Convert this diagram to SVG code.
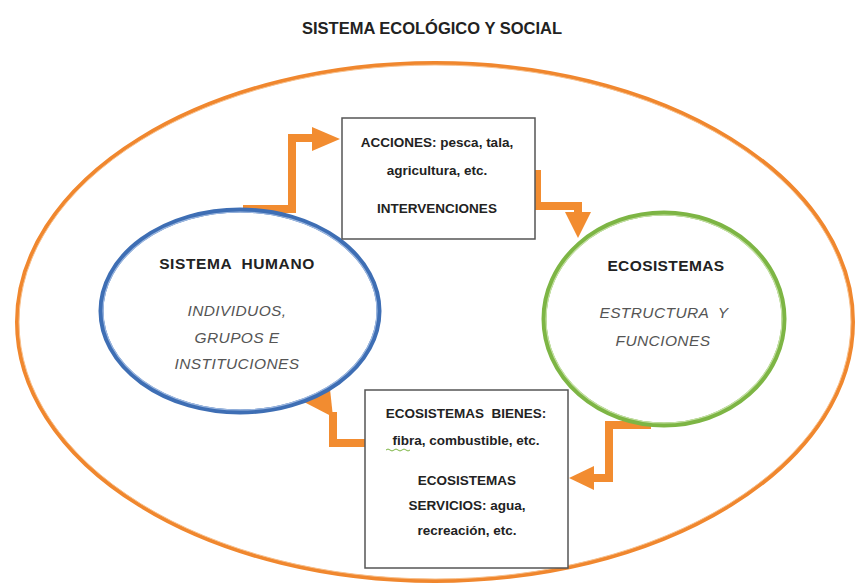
<svg xmlns="http://www.w3.org/2000/svg" width="860" height="585" viewBox="0 0 860 585">
<style>
.t{font-family:"Liberation Sans","Open Sans",sans-serif;fill:#222;text-anchor:middle}
.b{font-weight:bold;font-size:13.5px}
.i{font-style:italic;font-size:15.5px;fill:#555;letter-spacing:0.4px}
.conn{fill:none;stroke:#F28C30;stroke-width:8;stroke-linejoin:miter}
.head{fill:#F28C30}
.box{fill:#fff;stroke:#555;stroke-width:1.5}
</style>
<rect width="860" height="585" fill="#fff"/>
<text class="t" x="432" y="34" font-weight="bold" font-size="16.5">SISTEMA ECOLÓGICO Y SOCIAL</text>
<g id="outer">
<ellipse cx="435" cy="322" rx="418" ry="259" fill="none" stroke="#F0872E" stroke-width="4"/>
<ellipse cx="435" cy="322" rx="416" ry="257" fill="none" stroke="#F8C08C" stroke-width="1"/>
</g>
<g id="connectors">
<path class="conn" d="M243 209 H292 V138 H314"/>
<polygon class="head" points="312,127 340,139 312,151"/>
<path class="conn" d="M537 170 V206 H578 V214"/>
<polygon class="head" points="565,212 591,212 578,238"/>
<path class="conn" d="M651 425 H609 V478 H592"/>
<polygon class="head" points="594,466 569,478 594,490"/>
<path class="conn" d="M365 443 H333 V412"/>
<polygon class="head" points="304,402 330,389 333,417"/>
</g>
<g id="sistema-humano">
<ellipse cx="240" cy="311" rx="139" ry="101" fill="#fff" stroke="#3E6EB4" stroke-width="5"/>
<ellipse cx="240" cy="311" rx="137" ry="99" fill="none" stroke="#9DB8E0" stroke-width="1.2"/>
<text class="t" x="237" y="269" font-weight="bold" font-size="15.5" letter-spacing="0.6" xml:space="preserve">SISTEMA  HUMANO</text>
<text class="t i" x="237" y="316">INDIVIDUOS,</text>
<text class="t i" x="237" y="343">GRUPOS E</text>
<text class="t i" x="237" y="369">INSTITUCIONES</text>
</g>
<g id="ecosistemas">
<ellipse cx="664" cy="319" rx="120" ry="106" fill="#fff" stroke="#7DB544" stroke-width="5"/>
<ellipse cx="664" cy="319" rx="118" ry="104" fill="none" stroke="#C5E0A5" stroke-width="1.2"/>
<text class="t" x="666" y="271" font-weight="bold" font-size="15.5" letter-spacing="0.4">ECOSISTEMAS</text>
<text class="t i" x="664" y="318" xml:space="preserve">ESTRUCTURA  Y</text>
<text class="t i" x="663" y="346">FUNCIONES</text>
</g>
<g id="acciones">
<rect class="box" x="342" y="118" width="193" height="121"/>
<text class="t b" x="437" y="147">ACCIONES: pesca, tala,</text>
<text class="t b" x="437" y="175">agricultura, etc.</text>
<text class="t b" x="437" y="213">INTERVENCIONES</text>
</g>
<g id="bienes-servicios">
<rect class="box" x="365" y="390" width="203" height="178"/>
<text class="t b" x="466" y="418" xml:space="preserve">ECOSISTEMAS  BIENES:</text>
<text class="t b" x="466" y="445">fibra, combustible, etc.</text>
<text class="t b" x="467" y="485">ECOSISTEMAS</text>
<text class="t b" x="467" y="510">SERVICIOS: agua,</text>
<text class="t b" x="467" y="535">recreación, etc.</text>
<path d="M386 450 q2 -2 4 0 t4 0 t4 0 t4 0 t4 0 t4 0" fill="none" stroke="#7DB544" stroke-width="1"/>
</g>
</svg>
